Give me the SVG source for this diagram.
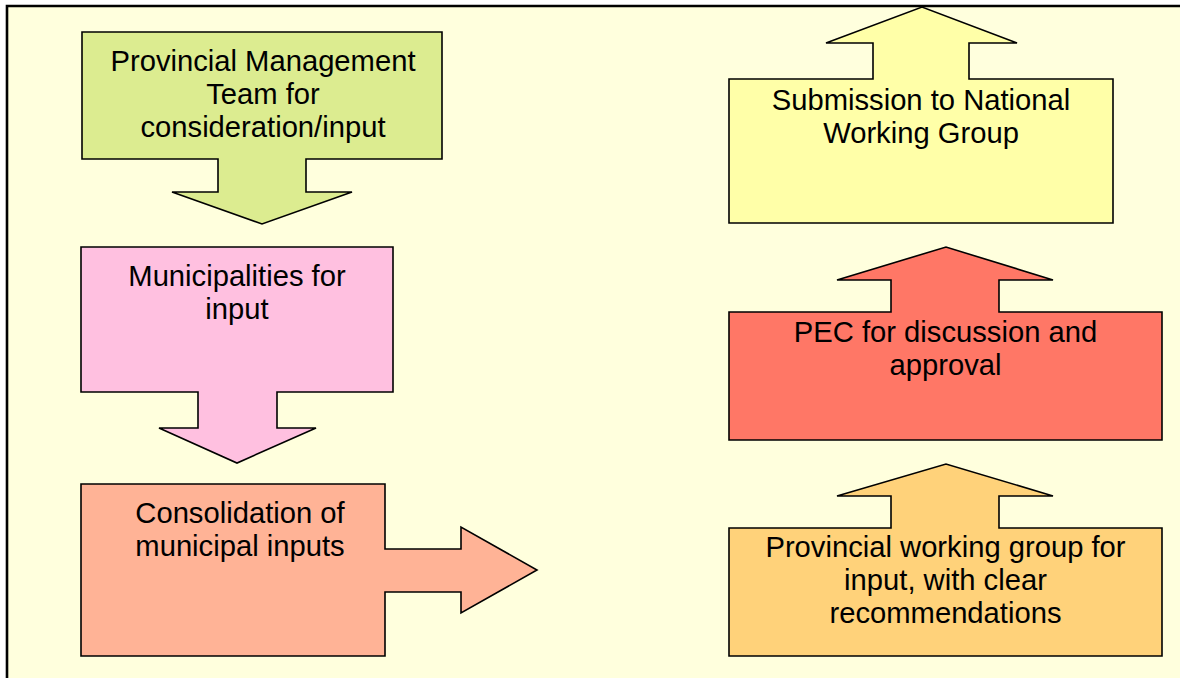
<svg xmlns="http://www.w3.org/2000/svg" width="1180" height="678" viewBox="0 0 1180 678">
  <style>
    .shape { stroke: #000; stroke-width: 1.6; stroke-linejoin: miter; }
    .label { font-family: "Liberation Sans", Arial, sans-serif; font-size: 29.2px; fill: #000; text-anchor: middle; }
  </style>
  <!-- page background and frame -->
  <rect x="0" y="0" width="1180" height="678" fill="#FFFFFF"/>
  <rect x="7" y="6" width="1180" height="680" fill="#FFFFDD"/>
  <path d="M7,678 V6 H1180" fill="none" stroke="#000" stroke-width="2.6"/>

  <!-- block arrows: each node carries its own arrow toward the next step -->
  <g id="connectors"></g>

  <g id="node-pmt">
    <path class="shape" fill="#DCEC90" d="M82,32 H442 V159 H306 V192 H352 L262,224 L172,192 H218 V159 H82 Z"/>
    <text class="label" x="263" y="71">Provincial Management</text>
    <text class="label" x="263" y="104">Team for</text>
    <text class="label" x="263" y="137">consideration/input</text>
  </g>

  <g id="node-municipalities">
    <path class="shape" fill="#FFC0E0" d="M81,247 H393 V392 H277 V428 H316 L237,463 L159,428 H198 V392 H81 Z"/>
    <text class="label" x="237" y="286">Municipalities for</text>
    <text class="label" x="237" y="319">input</text>
  </g>

  <g id="node-consolidation">
    <path class="shape" fill="#FFB396" d="M81,484 H385 V549 H461 V527 L537,570 L461,613 V592 H385 V656 H81 Z"/>
    <text class="label" x="240" y="523">Consolidation of</text>
    <text class="label" x="240" y="556">municipal inputs</text>
  </g>

  <g id="node-working-group">
    <path class="shape" fill="#FFD27A" d="M729,528 H891 V496 H837 L946,464 L1053,496 H999 V528 H1162 V656 H729 Z"/>
    <text class="label" x="945.5" y="557">Provincial working group for</text>
    <text class="label" x="945.5" y="590">input, with clear</text>
    <text class="label" x="945.5" y="623">recommendations</text>
  </g>

  <g id="node-pec">
    <path class="shape" fill="#FF7766" d="M729,312 H891 V280 H837 L946,247 L1053,280 H999 V312 H1162 V440 H729 Z"/>
    <text class="label" x="945.5" y="342">PEC for discussion and</text>
    <text class="label" x="945.5" y="375">approval</text>
  </g>

  <g id="node-submission">
    <path class="shape" fill="#FFFFA8" d="M729,79 H873 V43 H826 L922,7 L1017,43 H969 V79 H1113 V223 H729 Z"/>
    <text class="label" x="921" y="110">Submission to National</text>
    <text class="label" x="921" y="143">Working Group</text>
  </g>
</svg>
